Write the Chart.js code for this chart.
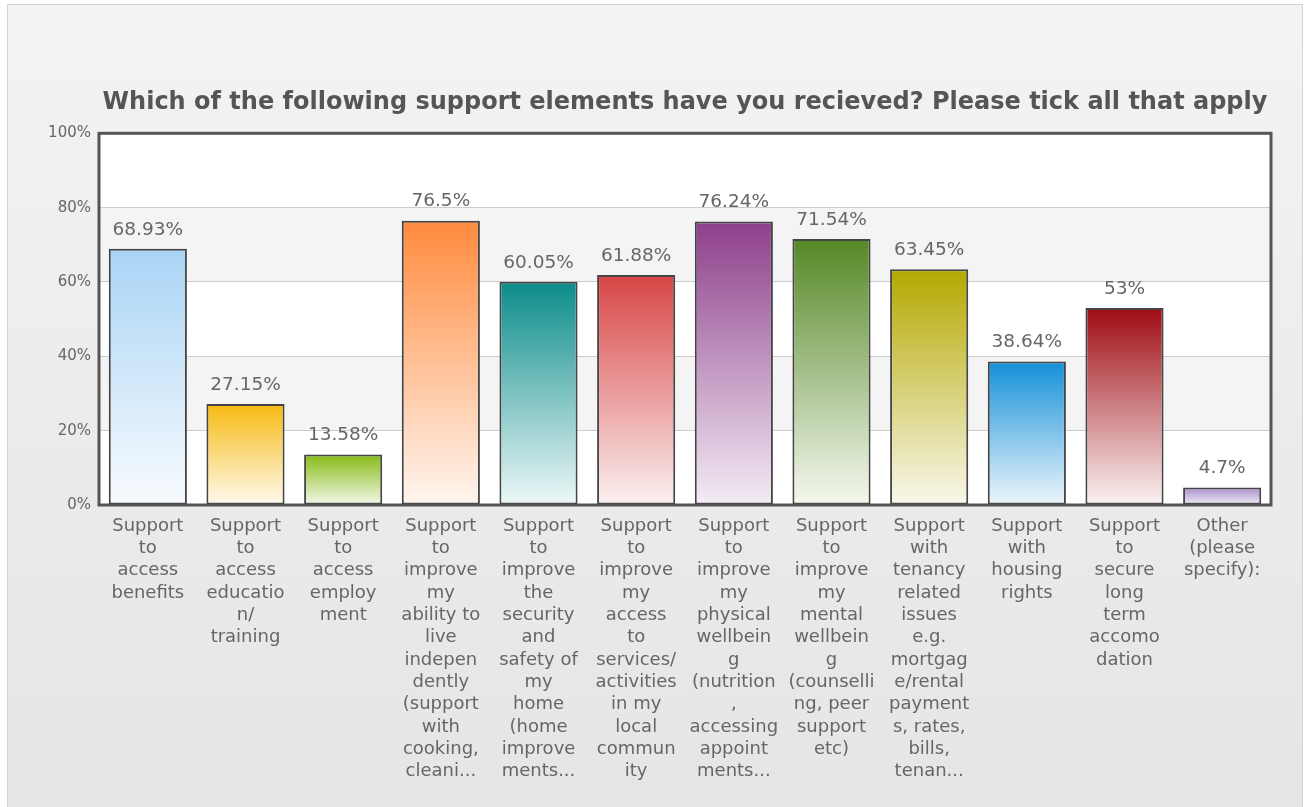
<!DOCTYPE html>
<html>
<head>
<meta charset="utf-8">
<script src="https://cdn.jsdelivr.net/npm/chart.js@4.4.1/dist/chart.umd.min.js"></script>
<style>
  html, body { margin: 0; padding: 0; background: #ffffff; }
  #panel { position: absolute; left: 7px; top: 4px; width: 1294px; height: 810px;
    background: linear-gradient(#f3f3f3, #e5e5e5); border: 1px solid #d4d4d4; }
  #wrap { position: absolute; left: 0; top: 0; width: 1304px; height: 807px; }
</style>
</head>
<body>
<div id="panel"></div>
<div id="wrap"><canvas id="c" width="1304" height="807"></canvas></div>
<script>
const titleText = "Which of the following support elements have you recieved? Please tick all that apply";
const categories = [
  ["Support","to","access","benefits"],
  ["Support","to","access","educatio","n/","training"],
  ["Support","to","access","employ","ment"],
  ["Support","to","improve","my","ability to","live","indepen","dently","(support","with","cooking,","cleani..."],
  ["Support","to","improve","the","security","and","safety of","my","home","(home","improve","ments..."],
  ["Support","to","improve","my","access","to","services/","activities","in my","local","commun","ity"],
  ["Support","to","improve","my","physical","wellbein","g","(nutrition",",","accessing","appoint","ments..."],
  ["Support","to","improve","my","mental","wellbein","g","(counselli","ng, peer","support","etc)"],
  ["Support","with","tenancy","related","issues","e.g.","mortgag","e/rental","payment","s, rates,","bills,","tenan..."],
  ["Support","with","housing","rights"],
  ["Support","to","secure","long","term","accomo","dation"],
  ["Other","(please","specify):"]
];
const values = [68.93, 27.15, 13.58, 76.5, 60.05, 61.88, 76.24, 71.54, 63.45, 38.64, 53, 4.7];
const topColors = ["#a9d4f5","#f6ba12","#86bb14","#ff8a3d","#0b8c8a","#d84545","#8d3f8b","#558826","#b4a800","#1490d8","#9e0c13","#a88bc9"];
const bottomColors = ["#f8fbfe","#fffaf0","#f5f9ec","#fff6f0","#eef8f8","#fbf0f0","#f4ecf5","#f5f8ef","#f9f8ec","#eef6fc","#fbf3f3","#f3eff8"];
const yTicks = [0, 20, 40, 60, 80, 100];

const FONT = "'DejaVu Sans', Verdana, sans-serif";

const bgPlugin = {
  id: 'bands',
  beforeDraw(chart) {
    const {ctx, chartArea: a, scales: {y}} = chart;
    ctx.save();
    ctx.fillStyle = '#ffffff';
    ctx.fillRect(a.left, a.top, a.right - a.left, a.bottom - a.top);
    for (let i = 0; i < yTicks.length - 1; i++) {
      if (i % 2 === 1) {
        const y0 = y.getPixelForValue(yTicks[i + 1]);
        const y1 = y.getPixelForValue(yTicks[i]);
        ctx.fillStyle = '#f4f4f4';
        ctx.fillRect(a.left, y0, a.right - a.left, y1 - y0);
      }
    }
    ctx.restore();
  },
  afterDatasetsDraw(chart) {
    const {ctx, chartArea: a} = chart;
    const meta = chart.getDatasetMeta(0);
    ctx.save();
    ctx.font = "18.5px " + FONT;
    ctx.fillStyle = '#666666';
    ctx.textAlign = 'center';
    ctx.textBaseline = 'middle';
    meta.data.forEach((bar, i) => {
      ctx.fillText(values[i] + '%', bar.x, bar.y - 19);
    });
    ctx.strokeStyle = '#555555';
    ctx.lineWidth = 3;
    ctx.strokeRect(a.left, a.top, a.right - a.left, a.bottom - a.top);
    ctx.restore();
  }
};

function gradFor(ctx) {
  const chart = ctx.chart;
  const i = ctx.dataIndex;
  if (!chart.chartArea || !chart.scales.y) return topColors[i];
  const y = chart.scales.y;
  const top = y.getPixelForValue(values[i]);
  const bottom = y.getPixelForValue(0);
  const g = chart.ctx.createLinearGradient(0, top, 0, bottom);
  g.addColorStop(0, topColors[i]);
  g.addColorStop(1, bottomColors[i]);
  return g;
}

new Chart(document.getElementById('c'), {
  type: 'bar',
  data: {
    labels: categories,
    datasets: [{
      data: values,
      backgroundColor: gradFor,
      borderColor: '#454545',
      borderWidth: 2,
      borderSkipped: false,
      barPercentage: 0.8,
      categoryPercentage: 1.0
    }]
  },
  plugins: [bgPlugin],
  options: {
    responsive: false,
    animation: false,
    devicePixelRatio: 1,
    layout: { padding: { left: 0, right: 33, top: 0, bottom: 0 } },
    plugins: {
      legend: { display: false },
      tooltip: { enabled: false },
      title: {
        display: true,
        text: titleText,
        fullSize: false,
        color: '#555555',
        font: { family: FONT, size: 24, weight: 'bold' },
        padding: { top: 88, bottom: 16.5 }
      }
    },
    scales: {
      x: {
        grid: { display: false, drawTicks: false },
        border: { display: false },
        ticks: {
          autoSkip: false, maxRotation: 0, minRotation: 0,
          color: '#666666', padding: 10,
          font: { family: FONT, size: 18, lineHeight: 1.24 }
        },
        afterFit(scale) { scale.height = 302; }
      },
      y: {
        min: 0, max: 100,
        grid: { color: '#cccccc', lineWidth: 1, drawTicks: false },
        border: { display: false },
        ticks: {
          stepSize: 20, padding: 8, color: '#666666',
          font: { family: FONT, size: 15 },
          callback: v => v + '%'
        },
        afterFit(scale) { scale.width = 99; }
      }
    }
  }
});
</script>
</body>
</html>
